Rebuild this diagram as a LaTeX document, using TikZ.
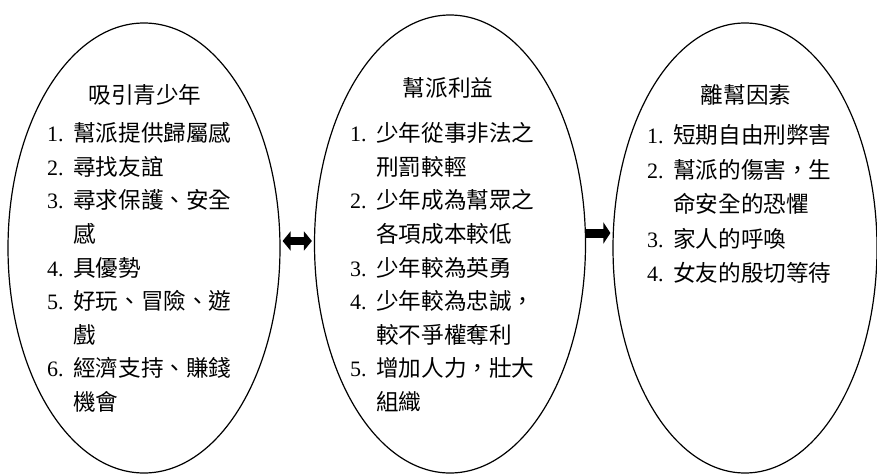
\documentclass[tikz,border=0pt]{standalone}
\usepackage{fontspec}
\setmainfont{Liberation Serif}
\newfontfamily\cjk{Noto Sans CJK TC}
\usetikzlibrary{shapes.geometric,arrows.meta}
\tikzset{
  oval/.style={draw, line width=1.2pt, ellipse, inner sep=0pt},
  ttl/.style={inner sep=0pt, font=\fontsize{22.6}{33.6}\selectfont\cjk},
  lst/.style={inner sep=0pt, anchor=base west, align=left},
  blk/.style={line width=8pt},
}
\newcommand{\itm}[1]{\makebox[26pt][l]{\rmfamily\fontsize{22}{22}\selectfont #1}}
\begin{document}
\begin{tikzpicture}[x=1pt,y=-1pt]
\useasboundingbox (0,0) rectangle (877,474);
\node[oval, minimum width=272pt, minimum height=450pt] (e1) at (144,248) {};
\node[oval, minimum width=271pt, minimum height=458pt] (e2) at (450,244) {};
\node[oval, minimum width=264pt, minimum height=450pt] (e3) at (745,248) {};

\node[ttl] (h1) at (145,95) {吸引青少年};
\node[ttl] (h2) at (448,88) {幫派利益};
\node[ttl] (h3) at (746,95) {離幫因素};

\node[lst] (l1) at (47,141.6) {\fontsize{22.6}{33.6}\selectfont
\begin{tabular}[t]{@{}l@{}}
\itm{1.}\cjk 幫派提供歸屬感\\
\itm{2.}\cjk 尋找友誼\\
\itm{3.}\cjk 尋求保護、安全\\
\itm{}\cjk 感\\
\itm{4.}\cjk 具優勢\\
\itm{5.}\cjk 好玩、冒險、遊\\
\itm{}\cjk 戲\\
\itm{6.}\cjk 經濟支持、賺錢\\
\itm{}\cjk 機會
\end{tabular}};

\node[lst] (l2) at (350,141.6) {\fontsize{22.6}{33.6}\selectfont
\begin{tabular}[t]{@{}l@{}}
\itm{1.}\cjk 少年從事非法之\\
\itm{}\cjk 刑罰較輕\\
\itm{2.}\cjk 少年成為幫眾之\\
\itm{}\cjk 各項成本較低\\
\itm{3.}\cjk 少年較為英勇\\
\itm{4.}\cjk 少年較為忠誠，\\
\itm{}\cjk 較不爭權奪利\\
\itm{5.}\cjk 增加人力，壯大\\
\itm{}\cjk 組織
\end{tabular}};

\node[lst] (l3) at (647,143.6) {\fontsize{22.6}{34.5}\selectfont
\begin{tabular}[t]{@{}l@{}}
\itm{1.}\cjk 短期自由刑弊害\\
\itm{2.}\cjk 幫派的傷害，生\\
\itm{}\cjk 命安全的恐懼\\
\itm{3.}\cjk 家人的呼喚\\
\itm{4.}\cjk 女友的殷切等待
\end{tabular}};

\draw[blk, {Triangle[width=19pt,length=8pt]}-{Triangle[width=19pt,length=8pt]}, shorten <=2pt, shorten >=2pt]
  ([yshift=7pt]e1.east) -- ([yshift=7pt]e1.east -| e2.west);
\draw[line width=9pt, -{Triangle[width=21pt,length=7pt]}, shorten >=2pt]
  ([yshift=11pt]e2.east) -- ([yshift=11pt]e2.east -| e3.west);
\end{tikzpicture}
\end{document}
